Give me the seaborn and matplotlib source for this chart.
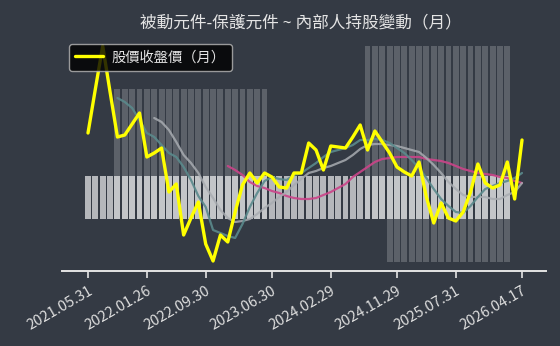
import numpy as np
import pandas as pd
import matplotlib
matplotlib.use('Agg')
import matplotlib.pyplot as plt
import matplotlib.transforms as mtransforms
import seaborn as sns

nan = np.nan

# ---- data -------------------------------------------------------------
months = list(pd.period_range('2021-05', '2026-04', freq='M').strftime('%Y.%m'))

close = [83.5, 105.5, 127, 104, 81.5, 82.5, 88, 93.5, 71.5, 73.5,
         76, 54, 58, 32.5, 41, 49, 28, 19.5, 32.5, 29,
         44, 57.5, 63.5, 58.5, 63.5, 61.5, 56.5, 56, 63.5, 63.5,
         78.5, 75, 65, 77, 76.5, 76, 81.5, 87.5, 75, 84.5,
         79, 73.5, 66.5, 64, 62, 69, 51.5, 38.5, 48.5, 41,
         39.5, 44, 54, 68, 58.5, 56, 57.5, 69, 50.5, 80]

ma5 = [nan, nan, nan, nan,
       101, 99, 96, 90, 83.5, 81.5, 77.5, 73.5, 71.5, 66.5,
       60, 52, 46.5, 35, 33.5, 32, 31, 38, 46.5, 53.5,
       59.5, 61.5, 60.5, 60, 62.5, 63.5, 66, 68.5, 71.5, 74,
       75, 76, 77.5, 80, 80, 80.5, 80, 78.5, 76, 73.5,
       70, 66, 61, 55.5, 50.5, 47, 44, 43.5, 47, 51.5,
       55.5, 57, 58.5, 59.5, 61, 63.5]

ma10 = [nan, nan, nan, nan, nan, nan, nan, nan, nan,
        91, 89, 85, 79, 72.5, 68.5, 63.5, 56.5, 51, 45,
        41, 39, 39.5, 40.5, 43, 46, 48.5, 51.5, 54, 57.5,
        60.5, 63.5, 64.5, 66, 67, 68.5, 70, 72.5, 75.5, 77.5,
        78, 78, 77.5, 77, 76, 75, 74, 71, 67.5, 63.5,
        59, 55.5, 52.5, 51.5, 51.5, 51.5, 50.5, 50.5, 52.5, 54,
        58.5]

ma20 = [nan, nan, nan, nan, nan, nan, nan, nan, nan, nan,
        nan, nan, nan, nan, nan, nan, nan, nan, nan,
        67, 65, 62.5, 59, 57, 56, 54.5, 53.5, 52, 51,
        50.5, 50.5, 51, 52.5, 54, 56, 58, 61.5, 64, 66.5,
        69, 70.5, 71, 71.5, 71.5, 71.5, 71.5, 70.5, 70, 69.5,
        68.5, 67, 65.5, 64.5, 63.5, 63, 62.5, 61.5, 61, 59.5,
        58.5]

# insider holding change levels (bars, secondary scale)
band = [1, 1, 1, 1, 1, 1, 1, 1, 1, 1,
        1, 1, 1, 1, 1, 1, 1, 1, 1, 1,
        1, 1, 1, 1, 1, 1, 1, 1, 1, 1,
        1, 1, 1, 1, 1, 1, 1, 1, 1, 1,
        1, 1, 1, 1, 1, 1, 1, 1, 1, 1,
        1, 1, 1, 1, 1, 1, 1, 1, nan, nan]
rise = [nan, nan, nan, nan, 3, 3, 3, 3, 3, 3,
        3, 3, 3, 3, 3, 3, 3, 3, 3, 3,
        3, 3, 3, 3, 3, nan, nan, nan, nan, nan,
        nan, nan, nan, nan, nan, nan, nan, nan, 4, 4,
        4, 4, 4, 4, 4, 4, 4, 4, 4, 4,
        4, 4, 4, 4, 4, 4, 4, 4, nan, nan]
fall = [nan, nan, nan, nan, nan, nan, nan, nan, nan, nan,
        nan, nan, nan, nan, nan, nan, nan, nan, nan, nan,
        nan, nan, nan, nan, nan, nan, nan, nan, nan, nan,
        nan, nan, nan, nan, nan, nan, nan, nan, nan, nan,
        nan, -1, -1, -1, -1, -1, -1, -1, -1, -1,
        -1, -1, -1, -1, -1, -1, -1, -1, nan, nan]

tick_labels = ['2021.05.31', '2022.01.26', '2022.09.30', '2023.06.30',
               '2024.02.29', '2024.11.29', '2025.07.31', '2026.04.17']

title = '被動元件-保護元件 ~ 內部人持股變動（月）'
legend_label = '股價收盤價（月）'

# ---- styling ------------------------------------------------------------
sns.set_style('dark')
plt.rcParams['font.family'] = ['Noto Sans CJK TC', 'DejaVu Sans']
BG = '#343a44'
FG = '#e4e4e4'

x = np.arange(len(months))
df = pd.DataFrame({'x': x, 'close': close, 'ma5': ma5, 'ma10': ma10,
                   'ma20': ma20, 'band': band, 'rise': rise, 'fall': fall})

fig = plt.figure(figsize=(5.6, 3.46), dpi=100, facecolor=BG)
ax = fig.add_axes([62 / 560, 75 / 346, 484 / 560, 231 / 346])
ax.set_facecolor(BG)

for col, alpha in [('band', 0.64), ('rise', 0.2), ('fall', 0.2)]:
    d = df.dropna(subset=[col])
    sns.barplot(data=d, x='x', y=col, native_scale=True, width=0.8,
                color='white', saturation=1, alpha=alpha, linewidth=0,
                errorbar=None, ax=ax)

ax2 = ax.twinx()
sns.lineplot(data=df, x='x', y='ma20', color='#cc4489', lw=1.6, alpha=0.9, ax=ax2)
sns.lineplot(data=df, x='x', y='ma10', color='#a8acb1', lw=1.6, alpha=0.85, ax=ax2)
sns.lineplot(data=df, x='x', y='ma5', color='#5a8a8c', lw=1.6, alpha=0.9, ax=ax2)
sns.lineplot(data=df, x='x', y='close', color='#ffff00', lw=2.4, ax=ax2)
price_line = ax2.lines[-1]

ax.set_ylim(-1.2, 4.134)
ax2.set_ylim(14.5, 130)
ax.set_xlim(-3.535, 62.26)

tick_pos = [months.index(t[:7]) for t in tick_labels]
ax.set_xticks(tick_pos)
ax.set_xticklabels(tick_labels, rotation=30, ha='right', rotation_mode='anchor',
                   fontsize=10.5, color='#dedede')
shift = mtransforms.ScaledTranslation(-4 / 100, 0, fig.dpi_scale_trans)
for lab in ax.get_xticklabels():
    lab.set_transform(lab.get_transform() + shift)
ax.tick_params(axis='x', bottom=True, length=5, width=1.2, color=FG, pad=4)
ax.set_yticks([])
ax2.set_yticks([])
for a in (ax, ax2):
    a.set_xlabel('')
    a.set_ylabel('')
    a.grid(False)
    for s in ('top', 'left', 'right', 'bottom'):
        a.spines[s].set_visible(False)
ax.spines['bottom'].set_visible(True)
ax.spines['bottom'].set_color(FG)
ax.spines['bottom'].set_linewidth(1.4)

leg = ax2.legend([price_line], [legend_label], loc='upper left',
                 bbox_to_anchor=(69 / 560, 1 - 44 / 346),
                 bbox_transform=fig.transFigure, borderaxespad=0,
                 fontsize=10.3, facecolor='black', framealpha=0.8,
                 edgecolor='#b8b8b8', fancybox=True, handlelength=1.9,
                 handletextpad=0.6, borderpad=0.45)
for t in leg.get_texts():
    t.set_color(FG)
leg.get_frame().set_linewidth(1.0)

fig.text(301 / 560, 1 - 23 / 346, title, ha='center', va='center',
         fontsize=12, color=FG)

fig.savefig('out.png', dpi=100, facecolor=BG)
